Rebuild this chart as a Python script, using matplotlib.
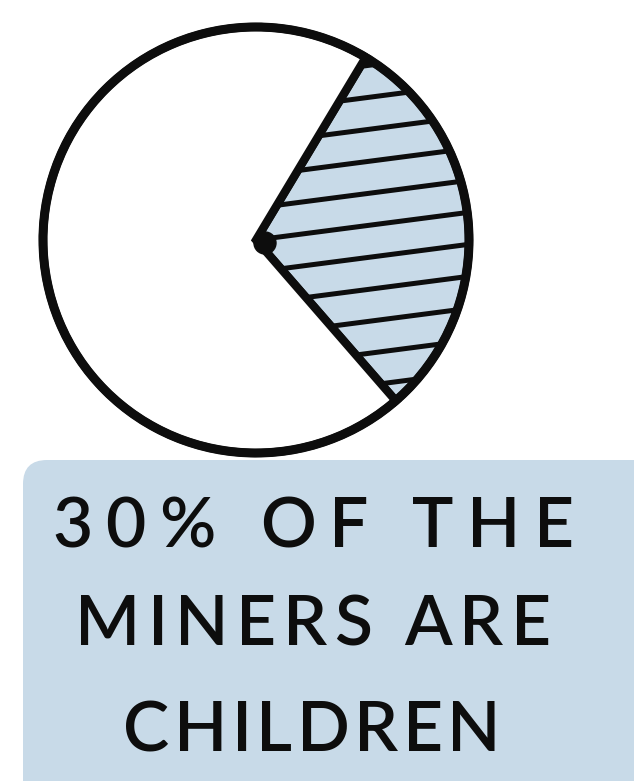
import numpy as np
import matplotlib.pyplot as plt
from matplotlib.patches import FancyBboxPatch, Circle

# data
shares = [30, 70]          # children, adults (percent)
labels = ["children", "adults"]
caption = ["30% OF THE", "MINERS ARE", "CHILDREN"]

blue = "#c8dae8"
ink = "#0d0d0d"

W, H = 634, 781
fig = plt.figure(figsize=(W / 100, H / 100), dpi=100)
ax = fig.add_axes([0, 0, 1, 1])
ax.set_xlim(0, W)
ax.set_ylim(0, H)
ax.axis("off")

# caption box behind the text
box = FancyBboxPatch((23, -30), 640, 351, boxstyle="round,pad=0,rounding_size=24",
                     facecolor=blue, edgecolor="none")
ax.add_patch(box)

# pie (hand-drawn look: thick black outlines)
cx, cy, r = 256, 541, 213
wedges, _ = ax.pie(shares, center=(cx, cy), radius=r,
                   startangle=-49, counterclock=True,
                   colors=[blue, "white"], frame=True,
                   wedgeprops=dict(edgecolor=ink, linewidth=6))
ax.set_xlim(0, W)
ax.set_ylim(0, H)
ax.set_aspect("auto")

# hatch lines across the children slice, clipped to the wedge
child = wedges[0]
for yy in np.arange(cy - 160, cy + 170, 32):
    xs = np.array([cx - 20, cx + r + 20])
    ys = yy + (xs - cx) * 0.13
    ln, = ax.plot(xs, ys, color=ink, lw=3.6, solid_capstyle="round")
    ln.set_clip_path(child)

ax.add_patch(Circle((cx, cy), r, fill=False, edgecolor=ink, lw=6.5))
ax.add_patch(Circle((cx + 9, cy - 3), 11, color=ink))

# caption, letters spread out like hand lettering
renderer = fig.canvas.get_renderer()
fs = 50
line_x = [(52, 574), (75, 551), (123, 501)]
line_base = [H - 547, H - 645, H - 751]

for txt, (x0, x1), yb in zip(caption, line_x, line_base):
    items = []
    widths = []
    for ch in txt:
        if ch == " ":
            items.append(None)
            widths.append(fs * 0.35)
            continue
        t = ax.text(0, yb, ch, ha="left", va="baseline", fontsize=fs,
                    family="Lato", fontweight="semibold", color=ink)
        bb = t.get_window_extent(renderer)
        items.append(t)
        widths.append(bb.width)
    gap = (x1 - x0 - sum(widths)) / (len(txt) - 1)
    x = x0
    for t, w in zip(items, widths):
        if t is not None:
            t.set_x(x)
        x += w + gap

plt.savefig("out.png", dpi=100)
